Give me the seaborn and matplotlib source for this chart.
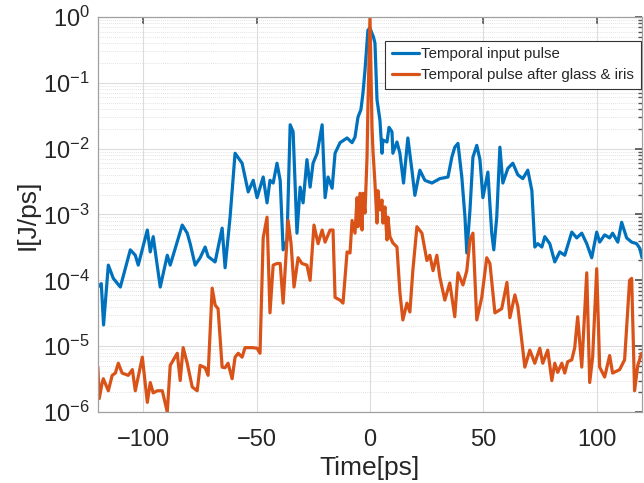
import numpy as np
import pandas as pd
import matplotlib
matplotlib.use("Agg")
import matplotlib.pyplot as plt
import seaborn as sns
from matplotlib.ticker import LogLocator, FixedLocator

# ---------------- data ----------------
t_input = [-120, -118.5, -117.5, -115.4, -113.2, -110.1, -105.7, -103.5, -102.2, -98.2,
           -96.9, -95.6, -92.5, -89.4, -88.1, -82.8, -80.6, -79.3, -77.1, -74.9,
           -72.7, -71.4, -68.3, -65.2, -63.9, -61.7, -59.5, -56.4, -53.7, -51.5,
           -49.8, -47.1, -45.4, -44.1, -42.7, -41.0, -39.6, -38.3, -36.6, -35.2,
           -33.9, -32.2, -30.8, -29.5, -27.8, -26.4, -25.1, -23.3, -21.1, -19.8,
           -18.5, -16.7, -15.4, -13.2, -10.1, -7.9, -6.6, -5.3, -4.0, -3.1,
           -2.2, -1.3, -0.9, 0.0, 0.9, 1.5, 2.2, 3.1, 4.4, 5.3,
           5.7, 7.5, 8.4, 9.7, 10.1, 11.9, 13.2, 14.8, 16.7, 18.5,
           19.8, 22.0, 24.2, 27.3, 30.8, 34.4, 36.1, 37.4, 38.8, 40.5,
           41.9, 42.7, 44.1, 45.4, 47.1, 48.5, 49.8, 52.0, 53.7, 54.6,
           55.9, 57.3, 58.6, 60.8, 63.0, 65.2, 67.4, 69.6, 71.4, 72.7,
           74.0, 75.8, 77.1, 79.3, 81.5, 83.7, 85.9, 89.0, 91.2, 93.4,
           95.6, 97.8, 100.0, 101.3, 103.5, 105.7, 107.0, 109.3, 111.0, 113.2,
           115.4, 117.6, 118.9, 120.0]
I_input = [7.9e-5, 8.9e-5, 2.1e-5, 1.7e-4, 1.07e-4, 7.9e-5, 2.9e-4, 2.4e-4, 1.7e-4, 5.8e-4,
           2.7e-4, 4.6e-4, 7.9e-5, 2.4e-4, 1.7e-4, 6.9e-4, 5.2e-4, 3.6e-4, 1.7e-4, 2.2e-4,
           3.2e-4, 2.3e-4, 1.9e-4, 6.2e-4, 1.55e-4, 9.1e-4, 8.5e-3, 6.0e-3, 2.2e-3, 3.3e-3,
           1.8e-3, 3.7e-3, 1.5e-3, 3.3e-3, 3.0e-3, 6.0e-3, 3.3e-3, 2.9e-4, 4.1e-4, 2.3e-2,
           1.8e-2, 5.2e-4, 2.6e-3, 1.5e-3, 6.8e-3, 2.6e-3, 6.0e-3, 8.5e-3, 2.3e-2, 1.8e-3,
           3.7e-3, 2.5e-3, 8.5e-3, 1.23e-2, 1.45e-2, 1.23e-2, 1.5e-2, 3.0e-2, 3.9e-2, 6.9e-2,
           1.55e-1, 4.0e-1, 6.3e-1, 6.8e-1, 5.6e-1, 5.0e-1, 4.0e-1, 5.5e-2, 2.7e-2, 8.5e-3,
           1.35e-2, 1.26e-2, 2.1e-2, 1.8e-2, 8.5e-3, 1.26e-2, 8.5e-3, 3.0e-3, 1.45e-2, 4.7e-3,
           1.95e-3, 4.7e-3, 3.3e-3, 3.0e-3, 3.5e-3, 3.7e-3, 7.4e-3, 1.05e-2, 1.2e-2, 3.7e-3,
           9.1e-4, 2.6e-4, 1.17e-3, 7.4e-3, 1.12e-2, 6.8e-3, 1.8e-3, 4.4e-3, 5.2e-4, 2.9e-4,
           9.1e-4, 1.05e-2, 3.0e-3, 5.0e-3, 6.0e-3, 4.0e-3, 3.5e-3, 4.7e-3, 2.3e-3, 3.2e-4,
           3.6e-4, 3.2e-4, 4.6e-4, 3.6e-4, 1.9e-4, 2.7e-4, 2.4e-4, 5.4e-4, 4.4e-4, 5.2e-4,
           3.6e-4, 2.2e-4, 5.4e-4, 3.8e-4, 4.9e-4, 4.4e-4, 5.2e-4, 3.8e-4, 7.6e-4, 4.4e-4,
           3.8e-4, 3.6e-4, 3.1e-4, 2.2e-4]

t_after = [-120, -119.4, -118.1, -117.6, -115.4, -113.7, -112.3, -111.0, -109.3, -106.6,
           -104.8, -103.5, -100.4, -98.2, -96.9, -95.6, -93.8, -91.6, -89.4, -88.1,
           -85.0, -83.7, -82.4, -80.6, -78.4, -76.2, -74.9, -72.7, -71.4, -69.6,
           -68.3, -67.0, -65.2, -63.9, -62.6, -60.8, -59.5, -58.1, -56.4, -55.1,
           -52.0, -49.8, -48.5, -47.1, -45.4, -44.1, -42.7, -41.0, -39.6, -38.3,
           -36.1, -34.8, -33.5, -31.7, -30.0, -27.8, -26.4, -24.7, -22.9, -21.1,
           -19.8, -17.6, -16.3, -15.4, -13.2, -11.9, -10.1, -8.8, -7.9, -6.6,
           -5.7, -5.3, -4.4, -3.5, -3.1, -2.2, -1.3, -0.9, 0.0, 0.4,
           0.9, 1.3, 2.2, 3.1, 3.5, 4.4, 5.3, 5.7, 6.6, 7.5,
           7.9, 8.8, 10.1, 11.9, 13.2, 14.5, 16.3, 17.6, 18.9, 20.7,
           22.9, 25.1, 26.4, 27.8, 29.5, 30.8, 33.0, 35.2, 37.4, 38.8,
           41.0, 42.7, 44.1, 45.4, 47.1, 49.3, 51.5, 52.9, 55.1, 58.1,
           60.4, 61.7, 63.9, 65.2, 68.3, 70.5, 72.7, 74.9, 76.2, 78.4,
           80.2, 81.5, 82.8, 84.6, 85.9, 87.2, 89.0, 90.3, 91.6, 93.4,
           95.6, 96.9, 98.2, 100.0, 101.3, 103.5, 105.7, 107.0, 110.1, 112.3,
           114.5, 115.4, 116.7, 118.1, 119.8]
I_after = [4.8e-6, 1.6e-6, 2.8e-6, 3.2e-6, 2.1e-6, 3.6e-6, 3.9e-6, 5.5e-6, 3.9e-6, 3.6e-6,
           4.4e-6, 2.1e-6, 6.8e-6, 1.4e-6, 2.8e-6, 1.95e-6, 2.1e-6, 2.1e-6, 1.0e-6, 5.1e-6,
           7.8e-6, 3.0e-6, 9.5e-6, 5.5e-6, 2.4e-6, 2.1e-6, 5.1e-6, 4.7e-6, 3.6e-6, 7.6e-5,
           4.2e-5, 3.7e-5, 4.8e-6, 4.7e-6, 5.5e-6, 3.2e-6, 6.8e-6, 7.8e-6, 6.8e-6, 9.5e-6,
           9.5e-6, 9.3e-6, 7.8e-6, 4.4e-4, 9.1e-4, 3.2e-5, 1.7e-4, 1.8e-4, 1.8e-4, 4.5e-5,
           8.1e-4, 3.6e-4, 7.9e-5, 2.2e-4, 1.8e-4, 1.7e-4, 1.0e-4, 6.9e-4, 3.6e-4, 5.8e-4,
           3.8e-4, 5.8e-4, 5.8e-4, 5.5e-5, 5.0e-5, 4.5e-5, 2.7e-4, 2.6e-4, 8.1e-4, 5.2e-4,
           1.8e-3, 6.5e-4, 2.1e-3, 5.8e-4, 2.1e-3, 1.05e-3, 7.4e-3, 4.3e-2, 1.0, 1.7e-1,
           2.1e-2, 9.5e-3, 3.0e-3, 7.4e-4, 2.3e-3, 1.17e-3, 1.65e-3, 7.4e-4, 1.3e-3, 4.1e-4,
           9.1e-4, 4.6e-4, 3.7e-4, 3.2e-4, 6.5e-5, 2.5e-5, 4.5e-5, 3.3e-5, 1.4e-4, 6.5e-4,
           5.2e-4, 2.0e-4, 2.4e-4, 1.4e-4, 2.4e-4, 1.12e-4, 5.0e-5, 9.1e-5, 2.8e-5, 1.3e-4,
           8.5e-5, 1.4e-4, 4.1e-4, 5.2e-4, 2.5e-5, 5.5e-5, 2.2e-4, 1.8e-4, 3.2e-5, 3.7e-5,
           9.3e-5, 2.7e-5, 6.0e-5, 4.0e-5, 4.8e-6, 8.7e-6, 5.5e-6, 9.3e-6, 5.5e-6, 8.7e-6,
           3.0e-6, 5.5e-6, 4.0e-6, 5.5e-6, 3.9e-6, 5.8e-6, 6.2e-6, 9.5e-6, 2.8e-5, 4.8e-6,
           1.3e-4, 2.8e-6, 6.8e-6, 1.5e-4, 4.8e-6, 3.4e-6, 7.2e-6, 3.9e-6, 4.4e-6, 6.2e-6,
           1.0e-4, 1.07e-4, 2.1e-6, 5.1e-6, 7.8e-6]

label_input = "Temporal input pulse"
label_after = "Temporal pulse after glass & iris"
x_ticks = [-100, -50, 0, 50, 100]

# ---------------- plotting ----------------
sns.set_theme(style="white")
plt.rcParams["font.family"] = ["Liberation Sans", "DejaVu Sans"]
plt.rcParams["mathtext.fontset"] = "custom"
plt.rcParams["mathtext.rm"] = "Liberation Sans"
plt.rcParams["mathtext.it"] = "Liberation Sans:italic"

fig = plt.figure(figsize=(6.44, 4.83), dpi=100)
ax = fig.add_axes([0.152, 0.147, 0.845, 0.818])

df_in = pd.DataFrame({"t": t_input, "I": I_input})
df_af = pd.DataFrame({"t": t_after, "I": I_after})

sns.lineplot(data=df_in, x="t", y="I", ax=ax, color="#0072BD", linewidth=2.3,
             label=label_input, estimator=None)
sns.lineplot(data=df_af, x="t", y="I", ax=ax, color="#D95319", linewidth=2.3,
             label=label_after, estimator=None)

ax.set_yscale("log")
ax.set_xlim(-120, 120)
ax.set_ylim(1e-6, 1)
ax.xaxis.set_major_locator(FixedLocator(x_ticks))
ax.yaxis.set_major_locator(LogLocator(base=10, numticks=10))
ax.yaxis.set_minor_locator(LogLocator(base=10, subs=np.arange(2, 10), numticks=20))

ax.grid(True, which="major", color="#dcdcdc", linewidth=0.8, linestyle="-")
ax.grid(True, which="minor", axis="y", color="#dadada", linewidth=0.6, linestyle=(0, (1, 1.5)))
ax.set_axisbelow(True)

for s in ax.spines.values():
    s.set_color("#a0a0a0")
    s.set_linewidth(0.9)

ax.tick_params(axis="both", which="both", direction="in", top=True, right=True,
               colors="#555555", labelcolor="#262626")
ax.tick_params(axis="x", which="major", labelsize=17, length=5, pad=12)
ax.tick_params(axis="y", which="major", labelsize=17, length=5, pad=6)
ax.tick_params(axis="y", which="minor", length=3)

ax.set_xlabel("Time[ps]", fontsize=19, color="#262626", labelpad=4)
ax.set_ylabel("I[J/ps]", fontsize=19, color="#262626", labelpad=2)

leg = ax.legend(loc="upper right", bbox_to_anchor=(0.998, 0.94), fontsize=10.8,
                frameon=True, fancybox=False, framealpha=1, edgecolor="#333333",
                handlelength=1.8, handletextpad=0.15, borderpad=0.45,
                labelspacing=0.45, borderaxespad=0)
leg.get_frame().set_linewidth(0.8)

fig.savefig("out.png", dpi=100)
